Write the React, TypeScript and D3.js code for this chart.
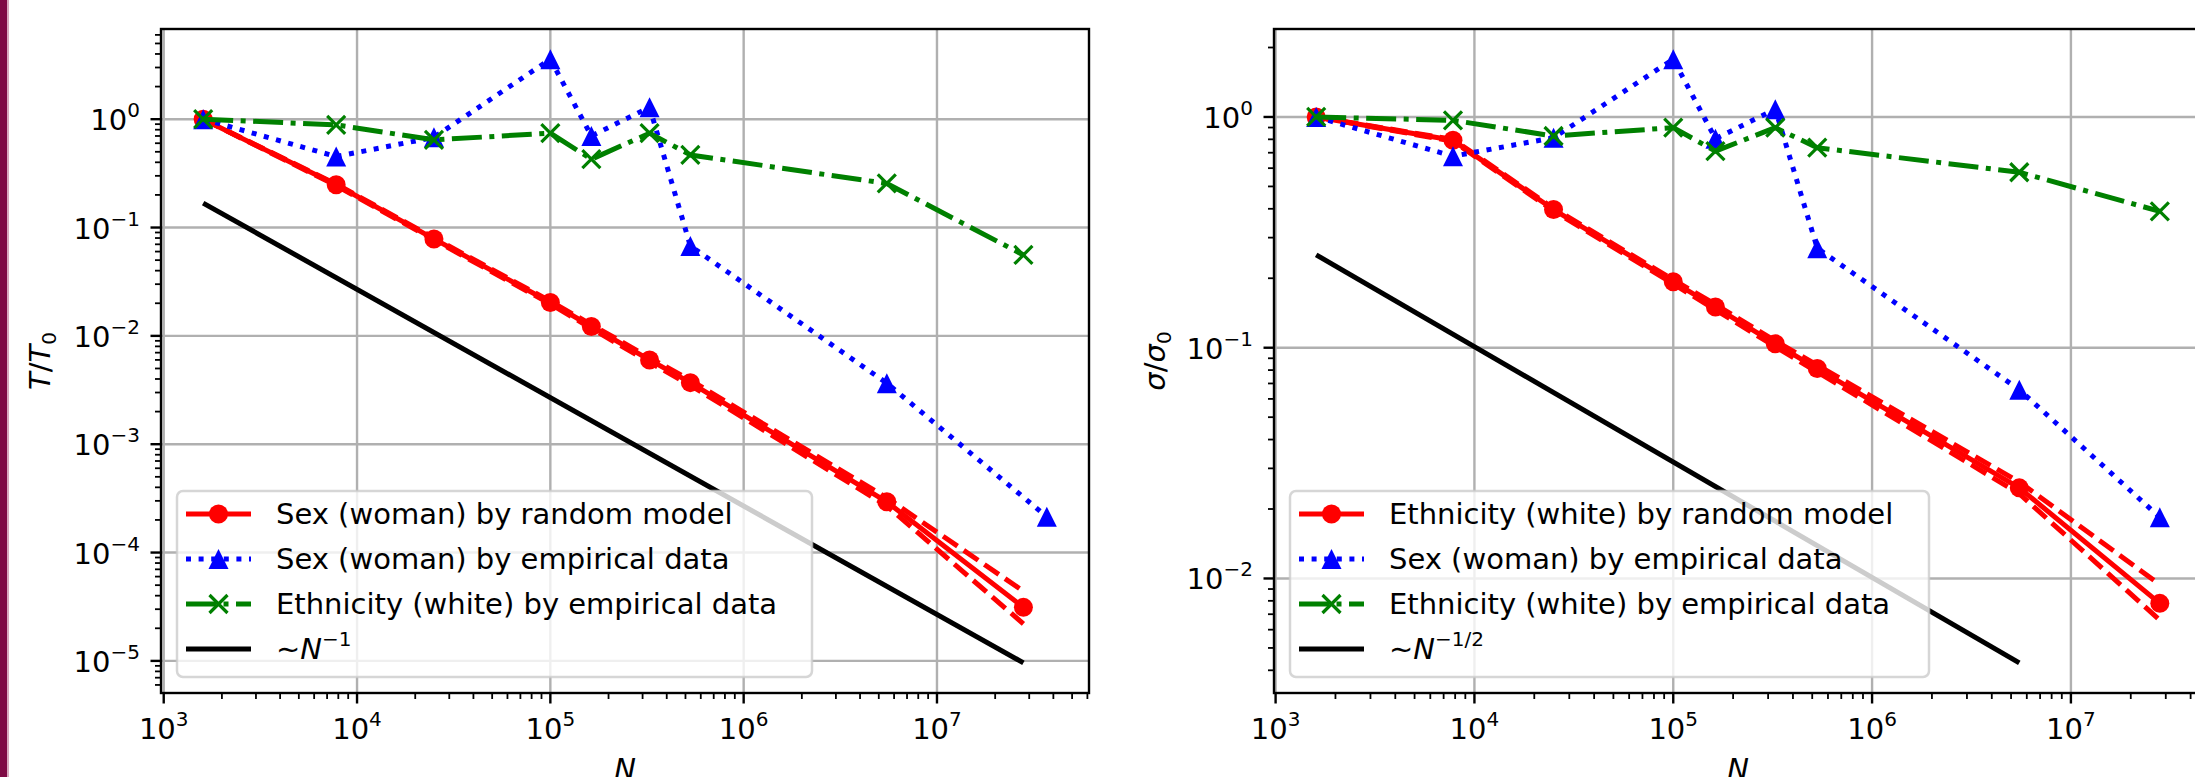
import React from "react";
import * as d3 from "d3";

// sample sizes N (x values)
const sizes = [1600, 7800, 25000, 100000, 163000, 326000, 530000, 5500000, 28000000];
const sizesSexLeft = [1600, 7800, 25000, 100000, 163000, 326000, 530000, 5500000, 37000000];

// left panel: T / T0
const tRandom = [1, 0.248, 0.0785, 0.0203, 0.0122, 0.006, 0.0037, 0.000294, 0.0000312];
const tRandomHi = [1, 0.252, 0.0802, 0.0209, 0.0127, 0.0063, 0.0039, 0.00032, 0.000044];
const tRandomLo = [1, 0.244, 0.0768, 0.0197, 0.0117, 0.0057, 0.0035, 0.00027, 0.000022];
const tSexEmp = [1, 0.452, 0.68, 3.58, 0.7, 1.29, 0.0676, 0.00366, 0.000214];
const tEthEmp = [1, 0.886, 0.644, 0.743, 0.427, 0.743, 0.468, 0.255, 0.0558];
const tRefN = [1600, 28000000];
const tRef = [0.168, 0.0000096];

// right panel: sigma / sigma0
const sRandom = [1, 0.792, 0.397, 0.193, 0.15, 0.104, 0.0812, 0.0247, 0.0078];
const sRandomHi = [1, 0.8, 0.402, 0.197, 0.154, 0.107, 0.084, 0.0262, 0.0094];
const sRandomLo = [1, 0.785, 0.392, 0.189, 0.146, 0.101, 0.0785, 0.0233, 0.0066];
const sSexEmp = [1, 0.676, 0.813, 1.78, 0.805, 1.08, 0.27, 0.0658, 0.0184];
const sEthEmp = [1, 0.967, 0.827, 0.899, 0.711, 0.899, 0.736, 0.576, 0.39];
const sRefN = [1600, 5500000];
const sRef = [0.2526, 0.00431];

const leftLabels = [
  "Sex (woman) by random model",
  "Sex (woman) by empirical data",
  "Ethnicity (white) by empirical data",
];
const rightLabels = [
  "Ethnicity (white) by random model",
  "Sex (woman) by empirical data",
  "Ethnicity (white) by empirical data",
];

const FONT = "DejaVu Sans";
const FS = 29;
const SUP = 20;
const LW = 5;
const DOT = "5 7.6";
const DASHDOT = "30 7.5 5 7.5";
const DASHED = "17.5 7.5";

type Marker = "o" | "^" | "x" | null;
type Series = { xs: number[]; ys: number[]; color: string; dash?: string; marker: Marker };

function padLog(ext: number[]) {
  const a = Math.log10(ext[0]);
  const b = Math.log10(ext[1]);
  const m = (b - a) * 0.05;
  return [Math.pow(10, a - m), Math.pow(10, b + m)];
}

function expText(e: number) {
  return e < 0 ? "\u2212" + -e : String(e);
}

function MarkerShape({ kind, x, y, color }: { kind: Marker; x: number; y: number; color: string }) {
  if (kind === "o") return <circle cx={x} cy={y} r={9.5} fill={color} />;
  if (kind === "^")
    return <path d={`M${x},${y - 10}L${x - 10},${y + 10}L${x + 10},${y + 10}Z`} fill={color} />;
  if (kind === "x")
    return (
      <path
        d={`M${x - 9},${y - 9}L${x + 9},${y + 9}M${x - 9},${y + 9}L${x + 9},${y - 9}`}
        stroke={color}
        strokeWidth={3.2}
      />
    );
  return null;
}

function Panel({
  id, left, top, width, height, series, legendRows, legendWidth, yLabel,
}: {
  id: string; left: number; top: number; width: number; height: number;
  series: Series[]; legendRows: { label: React.ReactNode; s: Series }[];
  legendWidth: number; yLabel: React.ReactNode;
}) {
  const allX = series.flatMap((s) => s.xs);
  const allY = series.flatMap((s) => s.ys);
  const x = d3.scaleLog().domain(padLog(d3.extent(allX) as number[])).range([left, left + width]);
  const y = d3.scaleLog().domain(padLog(d3.extent(allY) as number[])).range([top + height, top]);
  const bottom = top + height;

  const major = (sc: d3.ScaleLogarithmic<number, number>) => {
    const [a, b] = sc.domain();
    return d3.range(Math.ceil(Math.log10(a)), Math.floor(Math.log10(b)) + 1);
  };
  const minor = (sc: d3.ScaleLogarithmic<number, number>) => {
    const [a, b] = sc.domain();
    const out: number[] = [];
    for (let k = Math.floor(Math.log10(a)); k <= Math.ceil(Math.log10(b)); k++)
      for (let m = 2; m <= 9; m++) {
        const v = m * Math.pow(10, k);
        if (v >= a && v <= b) out.push(v);
      }
    return out;
  };
  const xMaj = major(x);
  const yMaj = major(y);

  const line = (s: Series) =>
    d3.line<number>().x((_, i) => x(s.xs[i])).y((d) => y(d))(s.ys) || "";

  const lgLeft = left + 16;
  const lgTop = top + 462;
  const hx0 = lgLeft + 9;
  const hx1 = lgLeft + 74;

  return (
    <g>
      <defs>
        <clipPath id={id}>
          <rect x={left} y={top} width={width} height={height} />
        </clipPath>
      </defs>
      {/* grid */}
      <g stroke="#b0b0b0" strokeWidth={2.4}>
        {xMaj.map((e) => (
          <line key={"gx" + e} x1={x(Math.pow(10, e))} x2={x(Math.pow(10, e))} y1={top} y2={bottom} />
        ))}
        {yMaj.map((e) => (
          <line key={"gy" + e} y1={y(Math.pow(10, e))} y2={y(Math.pow(10, e))} x1={left} x2={left + width} />
        ))}
      </g>
      {/* data */}
      <g clipPath={`url(#${id})`}>
        {series.map((s, i) => (
          <g key={i}>
            <path
              d={line(s)}
              fill="none"
              stroke={s.color}
              strokeWidth={LW}
              strokeDasharray={s.dash}
              strokeLinejoin="round"
            />
            {s.marker &&
              s.ys.map((v, j) => (
                <MarkerShape key={j} kind={s.marker} x={x(s.xs[j])} y={y(v)} color={s.color} />
              ))}
          </g>
        ))}
      </g>
      {/* spines */}
      <rect x={left} y={top} width={width} height={height} fill="none" stroke="#000" strokeWidth={2.4} />
      {/* ticks */}
      <g stroke="#000">
        {xMaj.map((e) => (
          <line key={"tx" + e} x1={x(Math.pow(10, e))} x2={x(Math.pow(10, e))} y1={bottom} y2={bottom + 10.5} strokeWidth={2.4} />
        ))}
        {minor(x).map((v) => (
          <line key={"mx" + v} x1={x(v)} x2={x(v)} y1={bottom} y2={bottom + 6} strokeWidth={1.8} />
        ))}
        {yMaj.map((e) => (
          <line key={"ty" + e} y1={y(Math.pow(10, e))} y2={y(Math.pow(10, e))} x1={left} x2={left - 10.5} strokeWidth={2.4} />
        ))}
        {minor(y).map((v) => (
          <line key={"my" + v} y1={y(v)} y2={y(v)} x1={left} x2={left - 6} strokeWidth={1.8} />
        ))}
      </g>
      <g fontFamily={FONT} fill="#000">
        {xMaj.map((e) => (
          <text key={"lx" + e} x={x(Math.pow(10, e))} y={bottom + 46} textAnchor="middle" fontSize={FS}>
            10<tspan dy={-13} fontSize={SUP}>{expText(e)}</tspan>
          </text>
        ))}
        {yMaj.map((e) => (
          <text key={"ly" + e} x={left - 21} y={y(Math.pow(10, e)) + 11} textAnchor="end" fontSize={FS}>
            10<tspan dy={-13} fontSize={SUP}>{expText(e)}</tspan>
          </text>
        ))}
        <text x={left + width / 2} y={bottom + 86} textAnchor="middle" fontSize={FS} fontStyle="italic">
          N
        </text>
        {yLabel}
      </g>
      {/* legend */}
      <rect
        x={lgLeft}
        y={lgTop}
        width={legendWidth}
        height={186}
        rx={6}
        fill="#fff"
        fillOpacity={0.8}
        stroke="#cccccc"
        strokeOpacity={0.8}
        strokeWidth={2.5}
      />
      {legendRows.map((r, i) => {
        const cy = lgTop + 23 + i * 45;
        return (
          <g key={"lg" + i}>
            <line x1={hx0} x2={hx1} y1={cy} y2={cy} stroke={r.s.color} strokeWidth={LW} strokeDasharray={r.s.dash} />
            {r.s.marker && <MarkerShape kind={r.s.marker} x={(hx0 + hx1) / 2} y={cy} color={r.s.color} />}
            <text x={lgLeft + 99} y={cy + 10} fontFamily={FONT} fontSize={FS}>
              {r.label}
            </text>
          </g>
        );
      })}
    </g>
  );
}

export default function App() {
  const leftSeries: Series[] = [
    { xs: sizes, ys: tRandomHi, color: "#ff0000", dash: DASHED, marker: null },
    { xs: sizes, ys: tRandomLo, color: "#ff0000", dash: DASHED, marker: null },
    { xs: sizes, ys: tRandom, color: "#ff0000", marker: "o" },
    { xs: sizesSexLeft, ys: tSexEmp, color: "#0000ff", dash: DOT, marker: "^" },
    { xs: sizes, ys: tEthEmp, color: "#008000", dash: DASHDOT, marker: "x" },
    { xs: tRefN, ys: tRef, color: "#000000", marker: null },
  ];
  const rightSeries: Series[] = [
    { xs: sizes, ys: sRandomHi, color: "#ff0000", dash: DASHED, marker: null },
    { xs: sizes, ys: sRandomLo, color: "#ff0000", dash: DASHED, marker: null },
    { xs: sizes, ys: sRandom, color: "#ff0000", marker: "o" },
    { xs: sizes, ys: sSexEmp, color: "#0000ff", dash: DOT, marker: "^" },
    { xs: sizes, ys: sEthEmp, color: "#008000", dash: DASHDOT, marker: "x" },
    { xs: sRefN, ys: sRef, color: "#000000", marker: null },
  ];

  const refRow = (exp: string) => (
    <>
      {"\u223C"}
      <tspan fontStyle="italic">N</tspan>
      <tspan dy={-13} fontSize={SUP}>{exp}</tspan>
    </>
  );

  const leftRows = [
    { label: leftLabels[0], s: leftSeries[2] },
    { label: leftLabels[1], s: leftSeries[3] },
    { label: leftLabels[2], s: leftSeries[4] },
    { label: refRow("\u22121"), s: leftSeries[5] },
  ];
  const rightRows = [
    { label: rightLabels[0], s: rightSeries[2] },
    { label: rightLabels[1], s: rightSeries[3] },
    { label: rightLabels[2], s: rightSeries[4] },
    { label: refRow("\u22121/2"), s: rightSeries[5] },
  ];

  return (
    <svg
      width={2195}
      height={777}
      style={{ position: "absolute", left: 0, top: 0, background: "#fff" }}
    >
      <rect x={0} y={0} width={2195} height={777} fill="#fff" />
      <rect x={0} y={0} width={7} height={777} fill="#7f0a45" />
      <rect x={7} y={0} width={2} height={777} fill="#d9a9bf" />
      <Panel
        id="clipL"
        left={161}
        top={29}
        width={928}
        height={664}
        series={leftSeries}
        legendRows={leftRows}
        legendWidth={635}
        yLabel={
          <text transform="translate(50,361) rotate(-90)" textAnchor="middle" fontSize={FS}>
            <tspan fontStyle="italic">T</tspan>/<tspan fontStyle="italic">T</tspan>
            <tspan dy={6} fontSize={SUP}>0</tspan>
          </text>
        }
      />
      <Panel
        id="clipR"
        left={1274}
        top={29}
        width={928}
        height={664}
        series={rightSeries}
        legendRows={rightRows}
        legendWidth={639}
        yLabel={
          <text transform="translate(1165,361) rotate(-90)" textAnchor="middle" fontSize={FS}>
            <tspan fontStyle="italic">σ</tspan>/<tspan fontStyle="italic">σ</tspan>
            <tspan dy={6} fontSize={SUP}>0</tspan>
          </text>
        }
      />
    </svg>
  );
}
